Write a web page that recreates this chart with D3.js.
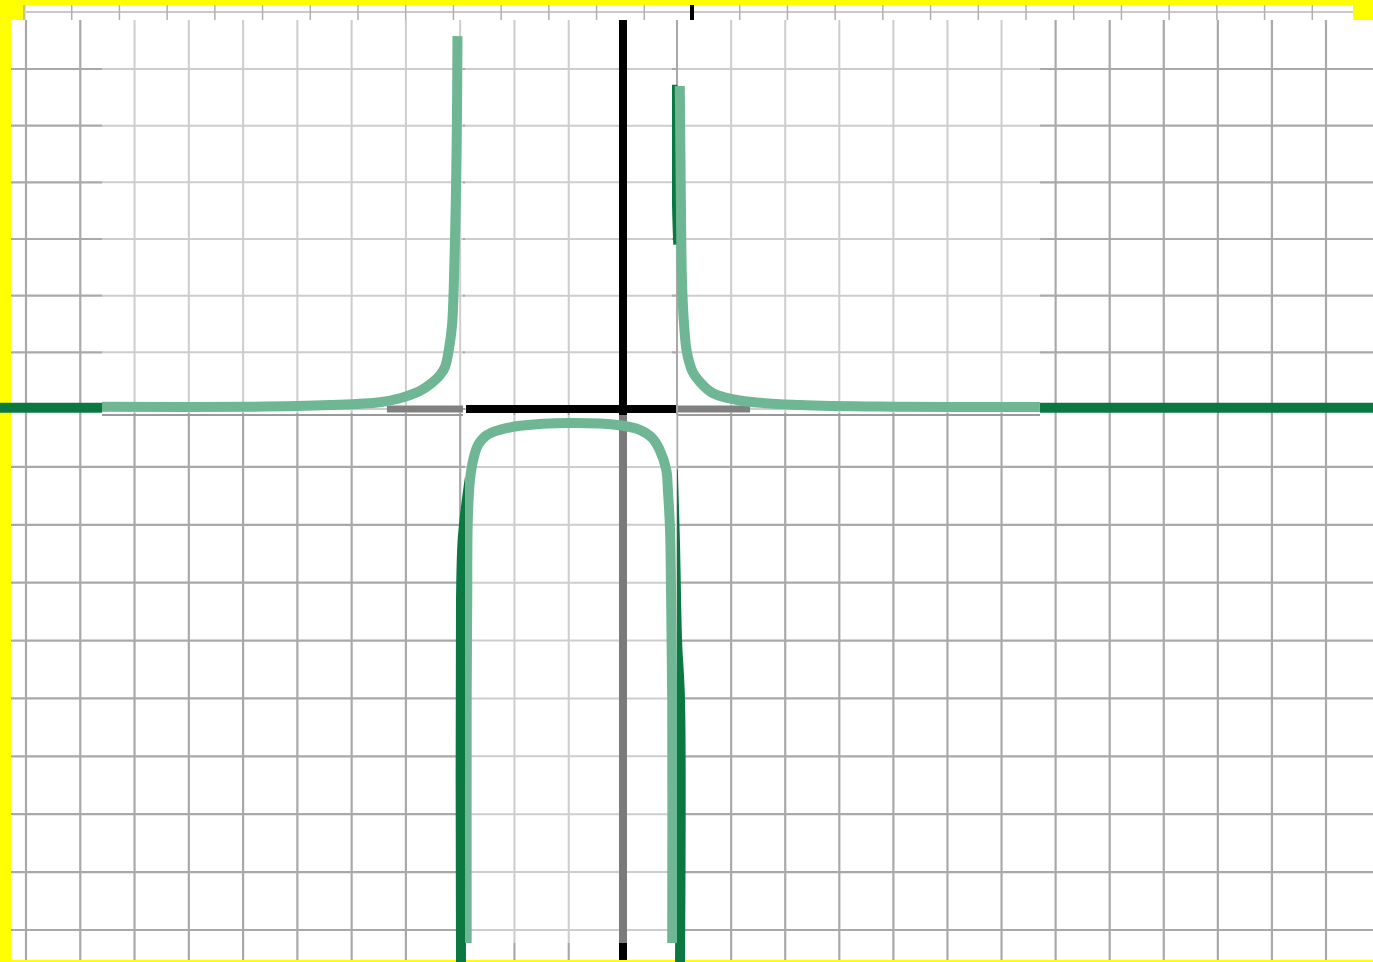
<!DOCTYPE html>
<html>
<head>
<meta charset="utf-8">
<script src="https://cdn.jsdelivr.net/npm/d3@7"></script>
<style>
  html, body { margin: 0; padding: 0; background: #ffff00; }
  svg { display: block; }
</style>
</head>
<body>
<div id="chart"></div>
<script>
'use strict';

const width = 1373, height = 962;

// grid steps (graph units)
const xGrid = d3.range(-11, 14);
const yGrid = d3.range(-9, 7);
const stripTicks = d3.range(-14, 14);

// curve, in graph units [x, y]
const leftBranch = [
    [-9.60, 0.04], [-6.87, 0.04], [-5.40, 0.07], [-4.48, 0.12], [-4.11, 0.19],
    [-3.74, 0.32], [-3.52, 0.46], [-3.37, 0.60], [-3.28, 0.74], [-3.21, 1.04],
    [-3.15, 1.48], [-3.12, 2.10], [-3.10, 2.82], [-3.08, 3.69], [-3.06, 5.10],
    [-3.05, 6.58]
];
const rightBranch = [
    [1.05, 5.70], [1.07, 3.69], [1.09, 2.28], [1.13, 1.48], [1.18, 1.01],
    [1.29, 0.65], [1.42, 0.48], [1.66, 0.28], [2.16, 0.15], [3.27, 0.07],
    [5.12, 0.04], [7.71, 0.035]
];
const innerBranch = [
    [-2.88, -9.30], [-2.88, -5.03], [-2.87, -3.30], [-2.86, -1.92], [-2.82, -1.23],
    [-2.76, -0.88], [-2.67, -0.62], [-2.51, -0.45], [-2.27, -0.36], [-1.90, -0.29],
    [-0.98, -0.24], [-0.06, -0.28], [0.31, -0.36], [0.54, -0.50], [0.68, -0.71],
    [0.80, -1.05], [0.83, -1.40], [0.87, -2.09], [0.89, -3.30], [0.91, -5.03],
    [0.91, -9.30]
];
// darker copy of the curve underneath
const baseLeft = [[-11.6, 0.02], [-9.4, 0.02]];
const baseRight = [[7.6, 0.02], [14.6, 0.02]];
const baseInnerLeft = [[-2.985, -9.6], [-2.985, -3.30], [-2.957, -2.30], [-2.90, -1.745], [-2.80, -1.05]];
const baseInnerRight = [[1.054, -9.6], [1.054, -5.03], [1.0, -4.0], [0.96, -2.26], [0.92, -1.05]];
const baseTopRight = [[0.952, 5.72], [0.962, 3.6], [0.985, 2.9]];

const lightGreen = "#6fb794",
    darkGreen = "#0b7842";

const x = d3.scaleLinear().domain([-11, 0, 13]).range([26, 623, 1326]);
const y = d3.scaleLinear().domain([-9, 0, 6]).range([930, 409, 69]);
const stripX = d3.scaleLinear().domain([-14, 0, 14]).range([24, 692, 1360]);

const line = d3.line().x(d => x(d[0])).y(d => y(d[1])).curve(d3.curveCatmullRom.alpha(0.5));

const svg = d3.select("#chart").append("svg")
    .attr("width", width)
    .attr("height", height);

svg.append("rect").attr("width", width).attr("height", height).attr("fill", "#ffff00");

// top strip
const strip = svg.append("g");
strip.append("rect").attr("x", 26).attr("y", 5).attr("width", 1327).attr("height", 15).attr("fill", "#fff");
strip.append("line").attr("x1", 26).attr("x2", 1353).attr("y1", 12).attr("y2", 12)
    .attr("stroke", "#b8b8b8").attr("stroke-width", 1.5);
strip.selectAll(".stick")
    .data(stripTicks)
    .join("line")
    .attr("class", "stick")
    .attr("x1", d => stripX(d)).attr("x2", d => stripX(d))
    .attr("y1", 5).attr("y2", 20)
    .attr("stroke", d => d === 0 ? "#000" : "#b0b0b0")
    .attr("stroke-width", d => d === 0 ? 4 : 1.5);

// main plot area
const main = [11, 20, 1373, 960];
svg.append("rect").attr("x", main[0]).attr("y", main[1])
    .attr("width", main[2] - main[0]).attr("height", main[3] - main[1]).attr("fill", "#fff");

function grid(g, x0, x1, y0, y1, color, w) {
    g.selectAll(null).data(xGrid.filter(d => x(d) >= x0 - 2 && x(d) <= x1 + 2))
        .join("line")
        .attr("x1", d => x(d)).attr("x2", d => x(d))
        .attr("y1", y0).attr("y2", y1)
        .attr("stroke", color).attr("stroke-width", w);
    g.selectAll(null).data(yGrid.filter(d => y(d) >= y0 - 2 && y(d) <= y1 + 2))
        .join("line")
        .attr("y1", d => y(d)).attr("y2", d => y(d))
        .attr("x1", x0).attr("x2", x1)
        .attr("stroke", color).attr("stroke-width", w);
}

const base = svg.append("g");
grid(base, main[0], main[2], main[1], main[3], "#a9a9a9", 2.2);
base.append("line").attr("x1", x(0)).attr("x2", x(0)).attr("y1", main[1]).attr("y2", main[3])
    .attr("stroke", "#000").attr("stroke-width", 8);

[baseLeft, baseRight, baseInnerLeft, baseInnerRight].forEach(pts => {
    base.append("path").attr("d", line(pts)).attr("fill", "none")
        .attr("stroke", darkGreen).attr("stroke-width", 10);
});
base.append("path").attr("d", line(baseTopRight)).attr("fill", "none")
    .attr("stroke", darkGreen).attr("stroke-width", 6);

// washed-out panels laid over the base graph
const panels = [
    {id: "pa", x0: 102, x1: 463, y0: 20, y1: 413},
    {id: "pb", x0: 465, x1: 672, y0: 20, y1: 413},
    {id: "pc", x0: 678, x1: 1040, y0: 20, y1: 413},
    {id: "pd", x0: 465, x1: 677, y0: 415, y1: 943}
];
const defs = svg.append("defs");
panels.forEach(p => {
    defs.append("clipPath").attr("id", "clip-" + p.id)
        .append("rect").attr("x", p.x0).attr("y", p.y0).attr("width", p.x1 - p.x0).attr("height", p.y1 - p.y0);
    const g = svg.append("g").attr("clip-path", `url(#clip-${p.id})`);
    g.append("rect").attr("x", p.x0).attr("y", p.y0).attr("width", p.x1 - p.x0).attr("height", p.y1 - p.y0)
        .attr("fill", "#fff");
    grid(g, p.x0, p.x1, p.y0, p.y1, "#cdcdcd", 2);
    p.g = g;
});

// gray line just under the top panels
[[102, 463], [678, 1040]].forEach(s => {
    svg.append("line").attr("x1", s[0]).attr("x2", s[1]).attr("y1", 415).attr("y2", 415)
        .attr("stroke", "#9a9a9a").attr("stroke-width", 2);
});

// axes inside the panels
const pa = panels[0].g, pb = panels[1].g, pc = panels[2].g, pd = panels[3].g;
pa.append("line").attr("x1", x(-4.35)).attr("x2", x(-2.9)).attr("y1", y(0)).attr("y2", y(0))
    .attr("stroke", "#808080").attr("stroke-width", 7);
pc.append("line").attr("x1", x(0.98)).attr("x2", x(2.35)).attr("y1", y(0)).attr("y2", y(0))
    .attr("stroke", "#808080").attr("stroke-width", 7);
pd.append("line").attr("x1", x(0)).attr("x2", x(0)).attr("y1", 415).attr("y2", 943)
    .attr("stroke", "#7a7a7a").attr("stroke-width", 8);
svg.append("line").attr("x1", 466).attr("x2", 676).attr("y1", y(0)).attr("y2", y(0))
    .attr("stroke", "#000").attr("stroke-width", 8);
pb.append("line").attr("x1", x(0)).attr("x2", x(0)).attr("y1", 20).attr("y2", y(0))
    .attr("stroke", "#000").attr("stroke-width", 8);

// light curve on top
const clips = [
    {id: "cl", pts: leftBranch, r: [102, 20, 470, 413]},
    {id: "cr", pts: rightBranch, r: [670, 20, 1040, 413]},
    {id: "ci", pts: innerBranch, r: [465, 415, 677, 943]}
];
clips.forEach(c => {
    defs.append("clipPath").attr("id", c.id)
        .append("rect").attr("x", c.r[0]).attr("y", c.r[1]).attr("width", c.r[2] - c.r[0]).attr("height", c.r[3] - c.r[1]);
    svg.append("path")
        .attr("clip-path", `url(#${c.id})`)
        .attr("d", line(c.pts))
        .attr("fill", "none")
        .attr("stroke", lightGreen)
        .attr("stroke-width", 10);
});

// top-right yellow corner
svg.append("rect").attr("x", 1353).attr("y", 0).attr("width", 20).attr("height", 20).attr("fill", "#ffff00");
</script>
</body>
</html>
